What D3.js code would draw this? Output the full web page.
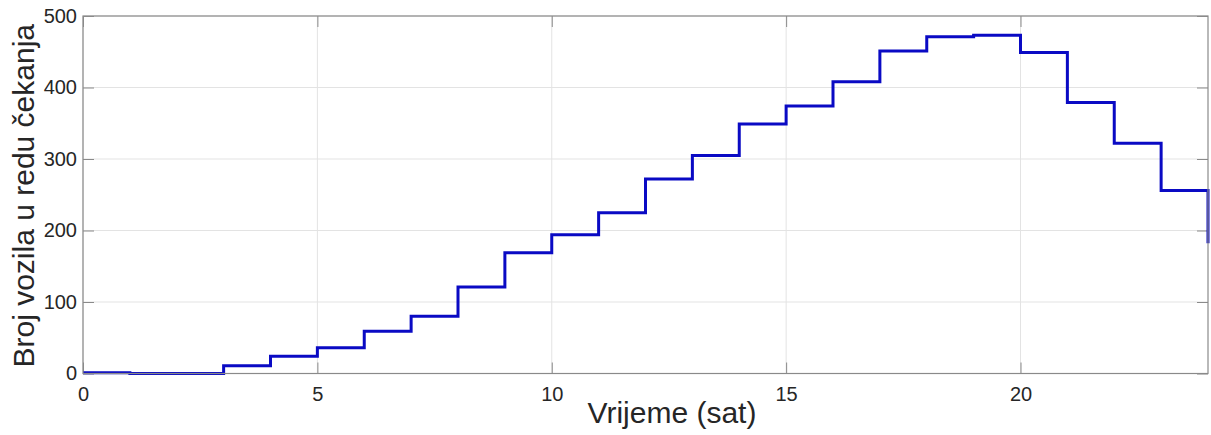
<!DOCTYPE html>
<html>
<head>
<meta charset="utf-8">
<script src="https://cdn.jsdelivr.net/npm/d3@7"></script>
<style>
  html, body { margin: 0; padding: 0; background: #fff; }
  svg { display: block; font-family: "Liberation Sans", Arial, sans-serif; }
</style>
</head>
<body>
<svg id="chart" width="1211" height="435"></svg>
<script>
// Data
const hours = [0,1,2,3,4,5,6,7,8,9,10,11,12,13,14,15,16,17,18,19,20,21,22,23,24];
const queue = [1,0,0,11,24,36,59,80,121,169,194,225,272,305,349,374,408,451,471,473,449,379,322,256,182];
const xTicks = [0,5,10,15,20];
const yTicks = [0,100,200,300,400,500];
const xLabel = "Vrijeme (sat)";
const yLabel = "Broj vozila u redu čekanja";

const svg = d3.select("#chart");
const L = 83, R = 1208, T = 16, B = 373.5;

const x = d3.scaleLinear().domain([0,24]).range([L,R]);
const y = d3.scaleLinear().domain([0,500]).range([B,T]);

const textColor = "#262626";
const axisColor = "#8a8a8a";
const gridColor = "#e3e3e3";
const tickLen = 11;

// Grid
const g = svg.append("g");
g.selectAll(".gx").data(xTicks).enter().append("line")
  .attr("x1", d => x(d)).attr("x2", d => x(d))
  .attr("y1", T).attr("y2", B)
  .attr("stroke", gridColor).attr("stroke-width", 1);
g.selectAll(".gy").data(yTicks).enter().append("line")
  .attr("x1", L).attr("x2", R)
  .attr("y1", d => y(d)).attr("y2", d => y(d))
  .attr("stroke", gridColor).attr("stroke-width", 1);

// Axes with inward ticks on all sides
const axB = d3.axisBottom(x).tickValues(xTicks).tickSize(-tickLen).tickPadding(13).tickFormat(d3.format("d"));
const axT = d3.axisTop(x).tickValues(xTicks).tickSize(-tickLen).tickFormat("");
const axLf = d3.axisLeft(y).tickValues(yTicks).tickSize(-tickLen).tickPadding(6).tickFormat(d3.format("d"));
const axRt = d3.axisRight(y).tickValues(yTicks).tickSize(-tickLen).tickFormat("");

function style(sel) {
  sel.selectAll(".domain").remove();
  sel.selectAll(".tick line").attr("stroke", axisColor).attr("stroke-width", 1);
  sel.selectAll(".tick text").attr("fill", textColor).style("font-size", "20px")
     .style("font-family", "'Liberation Sans', Arial, sans-serif");
}
svg.append("g").attr("transform", `translate(0,${B})`).call(axB).call(style);
svg.append("g").attr("transform", `translate(0,${T})`).call(axT).call(style);
svg.append("g").attr("transform", `translate(${L},0)`).call(axLf).call(style);
svg.append("g").attr("transform", `translate(${R},0)`).call(axRt).call(style);

// Line
const line = d3.line().x((d,i) => x(hours[i])).y(d => y(d)).curve(d3.curveStepAfter);
svg.append("path").datum(queue)
  .attr("d", line)
  .attr("fill", "none")
  .attr("stroke", "#0a0ac4")
  .attr("stroke-width", 3);

// Box
svg.append("rect").attr("x", L).attr("y", T).attr("width", R - L).attr("height", B - T)
  .attr("fill", "none").attr("stroke", axisColor).attr("stroke-width", 1.2);

// Labels
svg.append("text").attr("x", 672).attr("y", 423).attr("text-anchor", "middle")
  .attr("fill", textColor).style("font-size", "30px").text(xLabel);
svg.append("text").attr("transform", `translate(34,${(T+B)/2 + 1}) rotate(-90)`)
  .attr("text-anchor", "middle")
  .attr("fill", textColor).style("font-size", "30px").text(yLabel);
</script>
</body>
</html>
